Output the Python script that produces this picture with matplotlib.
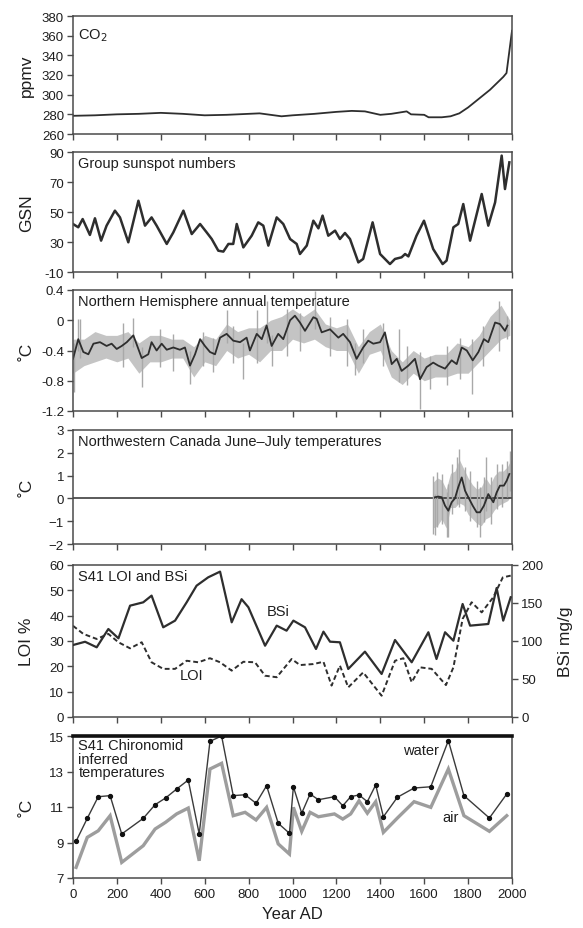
import matplotlib
matplotlib.use("Agg")
import matplotlib.pyplot as plt
import numpy as np

plt.rcParams['font.family'] = ['Liberation Sans', 'DejaVu Sans']

# ---- data ----
co2_yr = [0, 100, 200, 300, 400, 500, 600, 700, 800, 850, 900, 950, 1000, 1100, 1200,
          1270, 1330, 1400, 1450, 1520, 1540, 1600, 1620, 1680, 1720, 1760, 1800, 1850,
          1900, 1960, 1975, 2000]
co2_ppm = [278.5, 279, 280, 280.5, 281.5, 280.5, 279, 279.5, 280.5, 281, 279.5, 278, 279,
           280.5, 282.5, 283.5, 283, 279.5, 280.5, 283, 280, 279.5, 277, 277, 278, 281,
           287, 296, 305, 318, 322, 365]

gsn_yr = [0, 24, 44, 77, 100, 128, 153, 191, 214, 252, 298, 328, 358, 381, 427, 457, 503,
          541, 579, 609, 632, 662, 685, 708, 730, 746, 776, 814, 844, 867, 890, 928, 958,
          989, 1019, 1034, 1065, 1095, 1118, 1137, 1163, 1194, 1216, 1239, 1262, 1300,
          1322, 1365, 1399, 1444, 1467, 1497, 1513, 1528, 1565, 1599, 1641, 1684, 1702,
          1733, 1755, 1778, 1809, 1862, 1892, 1923, 1953, 1968, 1988]
gsn_val = [42, 39.8, 45.3, 34.7, 45.8, 30.9, 40.9, 50.9, 46.4, 29.8, 57.5, 40.9, 46.4, 40.9,
           28.7, 36.4, 50.9, 35.3, 42, 36.4, 32, 24.2, 23.6, 28.7, 28.7, 42, 26.4, 34.2,
           43.1, 40.9, 27.6, 46.4, 42, 32, 28.7, 22, 27.6, 44.2, 39.1, 47.6, 34.2, 37.6,
           32, 36, 32, 16.4, 18.7, 43.1, 22, 15.3, 18.7, 19.8, 22, 20.4, 34.2, 44.2, 25.3,
           15.3, 17.6, 39.8, 42, 55.3, 30.9, 62, 40.9, 56.4, 87.6, 65.3, 83.1]
gsn_ticks = [10, 30, 50, 70, 90]
gsn_ticklabels = ['-10', '30', '50', '70', '90']

nh_yr = [0, 24, 47, 70, 93, 123, 153, 176, 199, 222, 245, 275, 313, 343, 358, 381, 404,
         427, 457, 487, 510, 533, 556, 579, 601, 624, 647, 670, 700, 730, 761, 791, 806,
         837, 860, 882, 905, 935, 958, 989, 1011, 1034, 1057, 1095, 1110, 1133, 1171,
         1209, 1231, 1262, 1292, 1322, 1345, 1368, 1399, 1421, 1452, 1475, 1497, 1528,
         1558, 1581, 1611, 1641, 1664, 1695, 1725, 1748, 1771, 1794, 1821, 1847, 1872,
         1892, 1923, 1945, 1968, 1979]
nh_smooth = [-0.51, -0.25, -0.42, -0.45, -0.31, -0.29, -0.34, -0.31, -0.38, -0.34, -0.29,
             -0.20, -0.50, -0.45, -0.29, -0.40, -0.31, -0.39, -0.36, -0.39, -0.36, -0.60,
             -0.45, -0.25, -0.34, -0.42, -0.45, -0.23, -0.18, -0.27, -0.29, -0.23, -0.40,
             -0.18, -0.25, -0.07, -0.34, -0.18, -0.25, 0.0, 0.06, -0.03, -0.14, 0.04, 0.02,
             -0.16, -0.12, -0.23, -0.18, -0.29, -0.51, -0.36, -0.27, -0.31, -0.29, -0.16,
             -0.58, -0.51, -0.67, -0.60, -0.51, -0.78, -0.62, -0.56, -0.60, -0.64, -0.53,
             -0.58, -0.36, -0.40, -0.53, -0.42, -0.25, -0.29, -0.03, -0.05, -0.14, -0.07]
# annual spread (low / high envelope)
nh_env_yr = [0, 50, 100, 150, 200, 250, 300, 350, 400, 450, 500, 550, 600, 650, 700, 750,
             800, 850, 900, 950, 1000, 1050, 1100, 1150, 1200, 1250, 1300, 1350, 1400, 1450,
             1500, 1550, 1600, 1650, 1700, 1750, 1800, 1850, 1900, 1950, 1990]
nh_lo = [-0.7, -0.6, -0.55, -0.5, -0.55, -0.5, -0.7, -0.55, -0.55, -0.5, -0.5, -0.75,
         -0.55, -0.6, -0.4, -0.5, -0.45, -0.55, -0.4, -0.4, -0.25, -0.3, -0.25, -0.35,
         -0.4, -0.4, -0.7, -0.45, -0.4, -0.75, -0.85, -0.7, -0.8, -0.75, -0.75, -0.7,
         -0.7, -0.55, -0.4, -0.25, -0.2]
nh_hi = [-0.25, -0.25, -0.15, -0.2, -0.2, -0.15, -0.3, -0.2, -0.2, -0.25, -0.25, -0.35,
         -0.2, -0.25, -0.05, -0.15, -0.1, -0.1, 0.0, 0.05, 0.15, 0.05, 0.15, -0.05, -0.1,
         -0.05, -0.35, -0.15, -0.05, -0.4, -0.55, -0.4, -0.5, -0.45, -0.45, -0.3, -0.35,
         -0.2, 0.05, 0.2, 0.0]
nh_spike_yr = [5, 25, 30, 230, 275, 313, 395, 457, 533, 594, 640, 700, 730, 775, 837, 882,
               905, 974, 1034, 1103, 1171, 1247, 1285, 1322, 1414, 1487, 1520, 1580, 1626,
               1702, 1762, 1820, 1870, 1940, 1979]
nh_spike_lo = [-0.95, -0.4, -0.5, -0.62, -0.35, -0.88, -0.62, -0.67, -0.84, -0.6, -0.69,
               -0.3, -0.56, -0.78, -0.56, -0.3, -0.6, -0.47, -0.4, -0.12, -0.47, -0.6,
               -0.73, -0.56, -0.6, -0.82, -0.86, -1.17, -0.91, -0.86, -0.78, -0.97, -0.6,
               -0.4, -0.25]
nh_spike_hi = [-0.3, 0.02, 0.02, -0.03, 0.03, -0.35, -0.12, -0.18, -0.4, -0.16, -0.23, 0.13,
               -0.07, -0.3, 0.13, 0.26, -0.2, 0.15, 0.1, 0.39, 0.04, 0.02, -0.3, -0.12,
               -0.03, -0.12, -0.34, -0.42, -0.47, -0.34, -0.23, -0.25, -0.07, 0.26, 0.06]

nwc_yr = [1649, 1664, 1680, 1695, 1710, 1725, 1740, 1755, 1771, 1786, 1801, 1821, 1839,
          1854, 1872, 1892, 1915, 1930, 1945, 1963, 1976, 1988]
nwc_smooth = [0.05, 0.08, 0.05, -0.32, -0.54, -0.17, 0.0, 0.49, 0.92, 0.34, 0.05, -0.32,
              -0.61, -0.61, -0.32, 0.19, -0.17, 0.26, 0.56, 0.56, 0.78, 1.07]
nwc_env_yr = [1640, 1660, 1680, 1700, 1720, 1740, 1760, 1780, 1800, 1820, 1840, 1860, 1880,
              1900, 1920, 1940, 1960, 1980, 1995]
nwc_lo = [-1.3, -1.2, -0.9, -1.3, -0.4, -0.4, -0.2, -0.3, -0.7, -0.9, -1.1, -1.2, -0.9,
          -0.8, -0.5, -0.3, -0.2, -0.1, 0.1]
nwc_hi = [0.7, 0.9, 0.8, 0.4, 1.1, 1.2, 1.7, 1.3, 0.9, 0.6, 0.4, 0.5, 0.9, 0.6, 1.0, 1.2,
          1.2, 1.4, 1.7]
nwc_spike_yr = [1640, 1650, 1660, 1680, 1705, 1710, 1725, 1750, 1757, 1786, 1809, 1839,
                1854, 1872, 1880, 1905, 1930, 1953, 1976, 1990]
nwc_spike_lo = [-1.56, -1.6, -1.27, -1.12, -1.7, -1.68, -0.68, -0.25, -0.39, -0.54, -0.98,
                -1.27, -1.68, -1.05, -0.54, -1.12, -0.46, -0.39, 0.05, 0.34]
nwc_spike_hi = [1.0, 0.2, 1.14, 1.07, 0.3, 0.63, 1.51, 1.8, 2.17, 1.36, 1.22, 0.78, 0.49,
                0.92, 1.8, 0.92, 1.51, 1.51, 1.65, 2.09]

bsi_yr = [0, 55, 108, 161, 207, 260, 320, 358, 411, 465, 518, 563, 616, 670, 723, 768,
          799, 875, 928, 973, 1004, 1057, 1107, 1141, 1171, 1216, 1254, 1330, 1406, 1467,
          1543, 1619, 1656, 1695, 1733, 1775, 1809, 1892, 1930, 1960, 1994]
bsi_val = [94.7, 99, 91.7, 115.8, 103.5, 146.5, 150.9, 159.7, 118, 126.8, 151, 172.8, 183.8,
           191.3, 124.6, 155, 144.4, 93.8, 120.2, 113.6, 126.8, 118, 89.5, 112.3, 99.1,
           98.3, 63.2, 86, 56.6, 101.3, 72, 111.5, 76.3, 111.5, 100.4, 148.7, 120.2, 122.4,
           169.8, 126.8, 157.5]
loi_yr = [0, 47, 108, 161, 207, 260, 313, 358, 411, 465, 518, 571, 624, 670, 723, 776, 829,
          875, 928, 996, 1034, 1095, 1141, 1178, 1216, 1254, 1322, 1406, 1467, 1505, 1543,
          1581, 1634, 1699, 1733, 1775, 1816, 1862, 1915, 1958, 1994]
loi_val = [36.0, 32.8, 30.8, 32.8, 29.5, 27.1, 29.5, 21.6, 19.0, 19.0, 22.2, 21.6, 23.2,
           21.6, 18.3, 21.8, 21.6, 16.3, 15.7, 22.9, 20.5, 20.9, 21.8, 12.4, 20.3, 11.7, 17.6,
           8.4, 22.2, 23.2, 13.7, 19.6, 19.0, 12.6, 19.6, 38.7, 45.3, 41.3, 47.3, 55.1, 55.8]

chiro_yr = [14, 65, 115, 169, 222, 320, 374, 422, 472, 525, 575, 624, 677, 730, 784, 834,
            882, 935, 986, 1004, 1042, 1080, 1118, 1191, 1229, 1265, 1303, 1341, 1379, 1414,
            1478, 1554, 1630, 1710, 1781, 1897, 1976]
water_t = [9.07, 10.36, 11.58, 11.64, 9.48, 10.36, 11.13, 11.51, 12.01, 12.52, 9.48, 14.7,
           15.0, 11.64, 11.69, 11.21, 12.2, 10.08, 9.52, 12.14, 10.65, 11.73, 11.41, 11.58,
           11.07, 11.58, 11.68, 11.3, 12.24, 10.45, 11.55, 12.07, 12.14, 14.74, 11.64,
           10.38, 11.73]
air_t = [7.6, 9.29, 9.66, 10.51, 7.88, 8.82, 9.76, 10.14, 10.61, 10.94, 7.97, 13.14, 13.46,
         10.51, 10.70, 10.27, 10.98, 8.92, 8.35, 10.98, 9.63, 10.7, 10.45, 10.61, 10.32,
         10.61, 11.35, 10.65, 11.3, 9.57, 10.38, 11.3, 10.98, 13.14, 10.51, 9.63, 10.51]

# ---- layout ----
W, H = 583, 929
fig = plt.figure(figsize=(W / 100, H / 100), dpi=100)
LEFT, RIGHT = 73, 512
# (top px, bottom px) of each panel
panels = [(17, 135), (153, 273), (291, 412), (431, 545), (566, 718), (737, 879)]
axes = []
for top, bot in panels:
    ax = fig.add_axes([LEFT / W, 1 - bot / H, (RIGHT - LEFT) / W, (bot - top) / H])
    axes.append(ax)

SPINE = '#4a4a4a'
LINE = '#2e2e2e'
GREY = '#a9a9a9'
FILL = '#c4c4c4'
TXT = '#1e1e1e'
xticks = np.arange(0, 2001, 200)

for ax in axes:
    ax.set_xlim(0, 2000)
    ax.set_xticks(xticks)
    for s in ax.spines.values():
        s.set_color(SPINE)
        s.set_linewidth(1.1)
    ax.tick_params(direction='out', length=4.5, width=1, color=SPINE, labelsize=9.5,
                   labelcolor=TXT, pad=2)
    ax.tick_params(axis='x', labelbottom=False)
    ax.yaxis.label.set_color(TXT)

def title(ax, s, dy=0.035, **kw):
    ax.text(0.012, 1 - dy, s, transform=ax.transAxes, ha='left', va='top',
            fontsize=10.5, color=TXT, **kw)

def ylab(ax, s):
    ax.set_ylabel(s, fontsize=12.5)
    ax.yaxis.set_label_coords(-0.088, 0.5)

# CO2
ax = axes[0]
ax.plot(co2_yr, co2_ppm, color=LINE, lw=1.3)
ax.set_ylim(260, 380)
ax.set_yticks(range(260, 381, 20))
ylab(ax, 'ppmv')
title(ax, 'CO$_2$', dy=0.09)

# Group sunspot numbers
ax = axes[1]
ax.plot(gsn_yr, gsn_val, color=LINE, lw=1.8)
ax.set_ylim(10, 90)
ax.set_yticks(gsn_ticks)
ax.set_yticklabels(gsn_ticklabels)
ylab(ax, 'GSN')
title(ax, 'Group sunspot numbers')

# NH annual temperature
ax = axes[2]
ax.fill_between(nh_env_yr, nh_lo, nh_hi, color=FILL, lw=0)
ax.vlines(nh_spike_yr, nh_spike_lo, nh_spike_hi, color=GREY, lw=1)
ax.plot(nh_yr, nh_smooth, color=LINE, lw=1.3)
ax.set_ylim(-1.2, 0.4)
ax.set_yticks([-1.2, -0.8, -0.4, 0, 0.4])
ax.set_yticklabels(['-1.2', '-0.8', '-0.4', '0', '0.4'])
ylab(ax, '˚C')
title(ax, 'Northern Hemisphere annual temperature')

# NW Canada June-July temperatures
ax = axes[3]
ax.axhline(0, color=LINE, lw=1.1)
ax.fill_between(nwc_env_yr, nwc_lo, nwc_hi, color=FILL, lw=0)
ax.vlines(nwc_spike_yr, nwc_spike_lo, nwc_spike_hi, color=GREY, lw=1)
ax.plot(nwc_yr, nwc_smooth, color=LINE, lw=1.3)
ax.set_ylim(-2, 3)
ax.set_yticks(range(-2, 4))
ylab(ax, '˚C')
title(ax, 'Northwestern Canada June–July temperatures')

# LOI and BSi
ax = axes[4]
ax.plot(loi_yr, loi_val, color=LINE, lw=1.4, ls=(0, (2.5, 1.5)))
ax.set_ylim(0, 60)
ax.set_yticks(range(0, 61, 10))
ylab(ax, 'LOI %')
title(ax, 'S41 LOI and BSi', dy=0.025)
ax.text(934, 41.8, 'BSi', ha='center', va='center', fontsize=10.5, color=TXT)
ax.text(542, 16.6, 'LOI', ha='center', va='center', fontsize=10.5, color=TXT)
axr = ax.twinx()
axr.plot(bsi_yr, bsi_val, color=LINE, lw=1.6)
axr.set_ylim(0, 200)
axr.set_yticks(range(0, 201, 50))
axr.tick_params(direction='out', length=4.5, width=1, color=SPINE, labelsize=9.5,
                labelcolor=TXT, pad=2)
for s in axr.spines.values():
    s.set_visible(False)
axr.set_ylabel('BSi mg/g', fontsize=12.5, color=TXT)
axr.yaxis.set_label_coords(1.105, 0.5)

# Chironomid inferred temperatures
ax = axes[5]
ax.plot(chiro_yr, air_t, color='#9d9d9d', lw=2.4, solid_joinstyle='miter')
ax.plot(chiro_yr, water_t, color='#3a3a3a', lw=1.0, marker='o', ms=2.8,
        mfc='#111111', mec='#111111')
ax.set_ylim(7, 15)
ax.set_yticks(range(7, 16, 2))
ax.spines['top'].set_linewidth(2.6)
ax.spines['top'].set_color('#111111')
ylab(ax, '˚C')
title(ax, 'S41 Chironomid\ninferred\ntemperatures', dy=0.015, linespacing=0.95)
ax.text(1587, 14.2, 'water', ha='center', va='center', fontsize=10.5, color=TXT)
ax.text(1718, 10.44, 'air', ha='center', va='center', fontsize=10.5, color=TXT)
ax.tick_params(axis='x', labelbottom=True, labelsize=9.5, pad=3)
ax.set_xlabel('Year AD', fontsize=12, color=TXT, labelpad=4)

fig.savefig('out.png', dpi=100)
